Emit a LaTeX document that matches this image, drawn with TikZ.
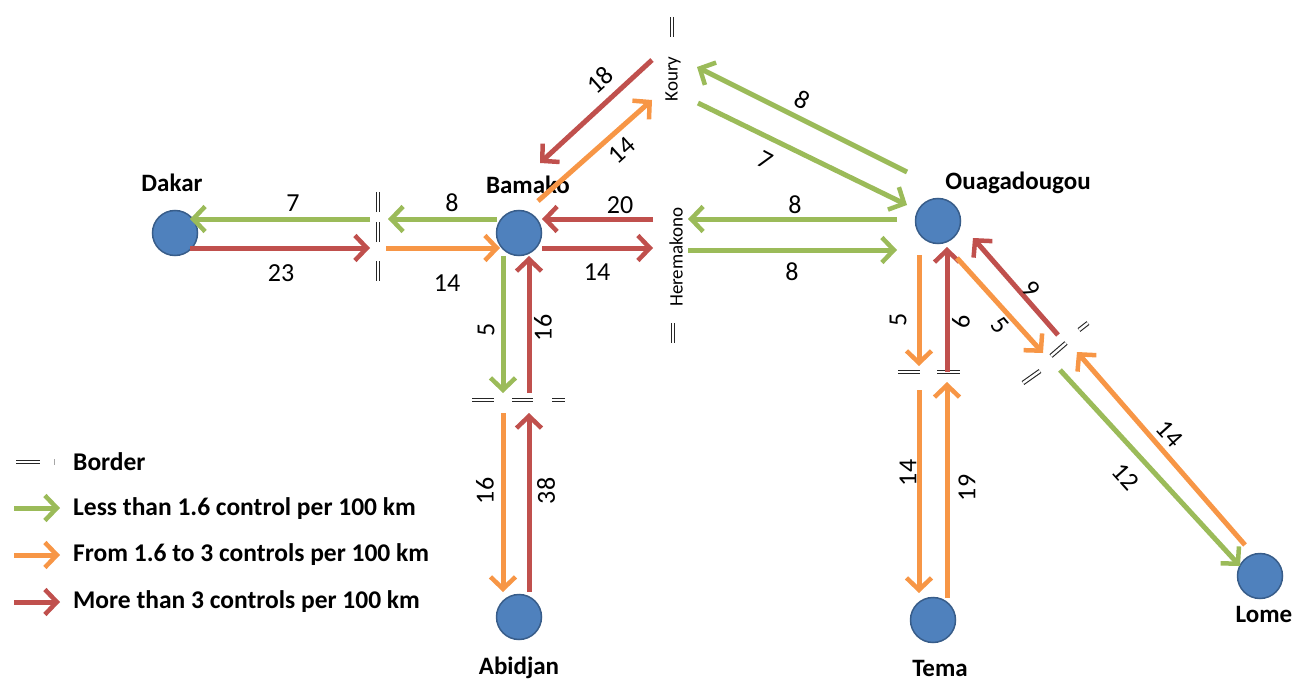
\documentclass[tikz,border=0pt]{standalone}
\usepackage{fontspec}
\setmainfont{Carlito}
\usetikzlibrary{arrows.meta}
\definecolor{cgreen}{HTML}{9BBB59}
\definecolor{corange}{HTML}{F79646}
\definecolor{cred}{HTML}{C0504D}
\definecolor{cityfill}{HTML}{4F81BD}
\definecolor{cityline}{HTML}{385D8A}
\tikzset{
  flow/.style={line width=5pt, -{Straight Barb[length=12pt,width=25pt,line width=4.5pt]}},
  lowflow/.style={flow, draw=cgreen},
  midflow/.style={flow, draw=corange},
  highflow/.style={flow, draw=cred},
  city/.style={circle, fill=cityfill, draw=cityline, line width=1.5pt, minimum size=45pt, inner sep=0pt},
  cityname/.style={font=\fontsize{25}{27}\selectfont\bfseries, inner sep=0pt},
  count/.style={font=\fontsize{26}{28}\selectfont, inner sep=0pt},
  post/.style={font=\fontsize{19}{21}\selectfont, inner sep=0pt, rotate=90},
  border/.style={draw=black!85, double=white, double distance=2.4pt, line width=1.1pt},
  legendtext/.style={font=\fontsize{25.5}{27}\selectfont\bfseries, inner sep=0pt, anchor=west},
}
\begin{document}
\begin{tikzpicture}[x=1pt,y=-1pt]
\useasboundingbox (0,0) rectangle (1294,682);

% cities
\node[city] (dakar) at (175,233) {};
\node[city] (bamako) at (519,233) {};
\node[city] (ouaga) at (938,221) {};
\node[city] (abidjan) at (519,617) {};
\node[city] (tema) at (933,620) {};
\node[city] (lome) at (1260,576) {};
\node[cityname] (dakarname) at (172,183) {Dakar};
\node[cityname] (bamakoname) at (528,185) {Bamako};
\node[cityname] (ouaganame) at (1018,183) {Ouagadougou};
\node[cityname] (abidjanname) at (519,668) {Abidjan};
\node[cityname] (temaname) at (940,668) {Tema};
\node[cityname] (lomename) at (1264,614) {Lome};

% border posts
\node[post] (koury) at (673,79) {Koury};
\node[post] (heremakono) at (676,257) {Heremakono};

% border marks
\draw[border] (378,192) -- (378,212);
\draw[border] (378,222) -- (378,242);
\draw[border] (378,261) -- (378,281);
\draw[border] (672,17) -- (672,37);
\draw[border] (673,323) -- (673,343);
\draw[border] (472,400) -- (494,400);
\draw[border] (512,400) -- (533,400);
\draw[border] (552,400) -- (565,400);
\draw[border] (898,372) -- (920,372);
\draw[border] (937,372) -- (960,372);
\draw[border] (1079,330) -- (1088,323);
\draw[border] (1051,356) -- (1066,343);
\draw[border] (1023,383) -- (1040,371);

% connector ends
\coordinate (dkA) at (190,219);   \coordinate (bdW) at (370,219);
\coordinate (bdE) at (388,219);   \coordinate (bkW) at (497,219);
\coordinate (dkB) at (190,248);   \coordinate (bdW2) at (370,248);
\coordinate (bdE2) at (386,248);  \coordinate (bkW2) at (500,248);
\coordinate (kyR1) at (652,60);   \coordinate (bkN1) at (540,163);
\coordinate (bkN2) at (538,201);  \coordinate (kyR2) at (652,100);
\coordinate (ouNW1) at (907,172); \coordinate (kyE1) at (697,67);
\coordinate (kyE2) at (698,103);  \coordinate (ouNW2) at (907,205);
\coordinate (hkW1) at (653,219);  \coordinate (bkE1) at (542,219);
\coordinate (bkE2) at (542,248);  \coordinate (hkW2) at (653,248);
\coordinate (ouW1) at (897,219);  \coordinate (hkE1) at (688,219);
\coordinate (hkE2) at (688,250);  \coordinate (ouW2) at (897,250);
\coordinate (bkS1) at (503,256);  \coordinate (abN1) at (503,393);
\coordinate (abN2) at (529,393);  \coordinate (bkS2) at (529,256);
\coordinate (abS1) at (503,413);  \coordinate (abT1) at (503,592);
\coordinate (abT2) at (529,592);  \coordinate (abS2) at (529,413);
\coordinate (ouS1) at (919,255);  \coordinate (tmN1) at (919,366);
\coordinate (tmN2) at (947,372);  \coordinate (ouS2) at (947,247);
\coordinate (tmS1) at (919,390);  \coordinate (tmT1) at (919,593);
\coordinate (tmT2) at (947,598);  \coordinate (tmS2) at (947,382);
\coordinate (ouSE1) at (957,258); \coordinate (lmN1) at (1043,353);
\coordinate (lmN2) at (1058,335); \coordinate (ouSE2) at (973,238);
\coordinate (lmS1) at (1060,370); \coordinate (lmT1) at (1240,566);
\coordinate (lmT2) at (1245,545); \coordinate (lmS2) at (1077,352);

% Dakar - Bamako
\draw[lowflow] (bdW) -- (dkA);
\draw[lowflow] (bkW) -- (bdE);
\draw[highflow] (dkB) -- (bdW2);
\draw[midflow] (bdE2) -- (bkW2);
% Bamako - Koury - Ouagadougou
\draw[highflow] (kyR1) -- (bkN1);
\draw[midflow] (bkN2) -- (kyR2);
\draw[lowflow] (ouNW1) -- (kyE1);
\draw[lowflow] (kyE2) -- (ouNW2);
% Bamako - Heremakono - Ouagadougou
\draw[highflow] (hkW1) -- (bkE1);
\draw[highflow] (bkE2) -- (hkW2);
\draw[lowflow] (ouW1) -- (hkE1);
\draw[lowflow] (hkE2) -- (ouW2);
% Bamako - Abidjan
\draw[lowflow] (bkS1) -- (abN1);
\draw[highflow] (abN2) -- (bkS2);
\draw[midflow] (abS1) -- (abT1);
\draw[highflow] (abT2) -- (abS2);
% Ouagadougou - Tema
\draw[midflow] (ouS1) -- (tmN1);
\draw[highflow] (tmN2) -- (ouS2);
\draw[midflow] (tmS1) -- (tmT1);
\draw[midflow] (tmT2) -- (tmS2);
% Ouagadougou - Lome
\draw[midflow] (ouSE1) -- (lmN1);
\draw[highflow] (lmN2) -- (ouSE2);
\draw[lowflow] (lmS1) -- (lmT1);
\draw[midflow] (lmT2) -- (lmS2);

% counts
\node[count] (c1) at (293,203) {7};
\node[count] (c2) at (281,273) {23};
\node[count] (c3) at (452,203) {8};
\node[count] (c4) at (447,283) {14};
\node[count, rotate=42] (c5) at (600,80) {18};
\node[count, rotate=42] (c6) at (622,150) {14};
\node[count] (c7) at (620,205) {20};
\node[count] (c8) at (597,272) {14};
\node[count, rotate=-28] (c9) at (802,100) {8};
\node[count, rotate=-28] (c10) at (765,160) {7};
\node[count] (c11) at (795,205) {8};
\node[count] (c12) at (792,272) {8};
\node[count, rotate=90] (c13) at (486,330) {5};
\node[count, rotate=90] (c14) at (543,328) {16};
\node[count, rotate=90] (c15) at (485,491) {16};
\node[count, rotate=90] (c16) at (546,491) {38};
\node[count, rotate=90] (c17) at (898,320) {5};
\node[count, rotate=90] (c18) at (961,322) {6};
\node[count, rotate=90] (c19) at (908,473) {14};
\node[count, rotate=90] (c20) at (967,488) {19};
\node[count, rotate=-50] (c21) at (1031,289) {9};
\node[count, rotate=-50] (c22) at (1000,325) {5};
\node[count, rotate=-48] (c23) at (1170,434) {14};
\node[count, rotate=-48] (c24) at (1126,477) {12};

% legend
\draw[border] (16,462) -- (40,462);
\draw[draw=black!35, double=white, double distance=1pt, line width=0.5pt] (55,459) -- (55,465);
\node[legendtext] (lgborder) at (73,462) {Border};
\coordinate (lgA1) at (14,508); \coordinate (lgA2) at (60,508);
\coordinate (lgB1) at (14,555); \coordinate (lgB2) at (60,555);
\coordinate (lgC1) at (14,602); \coordinate (lgC2) at (60,602);
\draw[lowflow] (lgA1) -- (lgA2);
\draw[midflow] (lgB1) -- (lgB2);
\draw[highflow] (lgC1) -- (lgC2);
\node[legendtext] (lglow) at (73,509) {Less than 1.6 control per 100 km};
\node[legendtext] (lgmid) at (73,555) {From 1.6 to 3 controls per 100 km};
\node[legendtext] (lghigh) at (73,602) {More than 3 controls per 100 km};
\end{tikzpicture}
\end{document}
